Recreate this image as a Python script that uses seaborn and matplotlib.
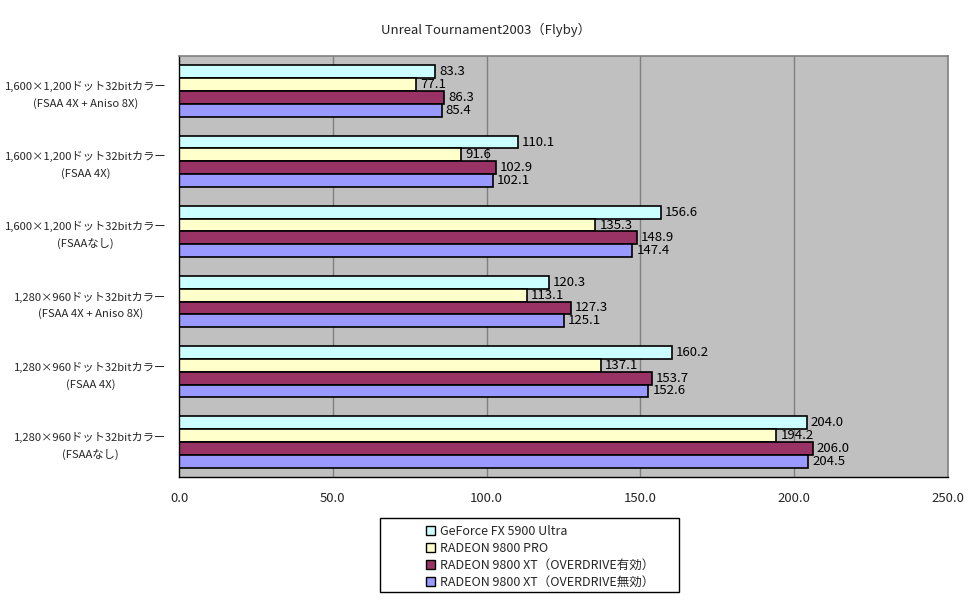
import matplotlib
matplotlib.use("Agg")
import matplotlib.pyplot as plt
import seaborn as sns
import pandas as pd
from matplotlib.patches import Patch, Rectangle

categories = [
    "1,600×1,200ドット32bitカラー\n(FSAA 4X + Aniso 8X)",
    "1,600×1,200ドット32bitカラー\n(FSAA 4X)",
    "1,600×1,200ドット32bitカラー\n(FSAAなし)",
    "1,280×960ドット32bitカラー\n(FSAA 4X + Aniso 8X)",
    "1,280×960ドット32bitカラー\n(FSAA 4X)",
    "1,280×960ドット32bitカラー\n(FSAAなし)",
]
series_names = [
    "GeForce FX 5900 Ultra",
    "RADEON 9800 PRO",
    "RADEON 9800 XT（OVERDRIVE有効）",
    "RADEON 9800 XT（OVERDRIVE無効）",
]
geforce = [83.3, 110.1, 156.6, 120.3, 160.2, 204.0]
radeon_pro = [77.1, 91.6, 135.3, 113.1, 137.1, 194.2]
radeon_xt_on = [86.3, 102.9, 148.9, 127.3, 153.7, 206.0]
radeon_xt_off = [85.4, 102.1, 147.4, 125.1, 152.6, 204.5]
x_ticks = [0, 50, 100, 150, 200, 250]
title = "Unreal Tournament2003（Flyby）"
colors = ["#CCFFFF", "#FFFFCC", "#993366", "#9999FF"]

rows = []
for name, vals in zip(series_names, [geforce, radeon_pro, radeon_xt_on, radeon_xt_off]):
    for c, v in zip(categories, vals):
        rows.append({"cat": c, "series": name, "value": v})
df = pd.DataFrame(rows)

sns.set_style("white")
plt.rcParams["font.family"] = ["Noto Sans CJK JP", "DejaVu Sans"]
plt.rcParams["font.size"] = 9

fig = plt.figure(figsize=(9.72, 6.04), dpi=100)
ax = fig.add_axes([179 / 972, 1 - 477 / 604, (948 - 179) / 972, (477 - 56) / 604])
ax.set_facecolor("#C0C0C0")

sns.barplot(data=df, y="cat", x="value", hue="series", order=categories,
            hue_order=series_names, palette=colors, orient="h", width=0.73,
            edgecolor="black", linewidth=1.2, ax=ax, legend=False, saturation=1)

for cont in ax.containers:
    ax.bar_label(cont, fmt="%.1f", padding=3, fontsize=9.5, color="black")

ax.set_xlim(0, 250)
ax.set_ylim(len(categories) - 0.5, -0.5)
ax.set_xticks(x_ticks)
ax.set_xticklabels([f"{t:.1f}" for t in x_ticks])
ax.set_xlabel("")
ax.set_ylabel("")
ax.set_axisbelow(True)
for t in x_ticks[1:-1]:
    ax.axvline(t, color="#808080", lw=1, zorder=0)

ax.tick_params(axis="x", direction="out", length=3.5, width=1, color="black", pad=7, labelsize=9.5)
ax.tick_params(axis="y", which="major", length=0, pad=9, labelsize=8.1)
ax.set_yticks([i - 0.5 for i in range(len(categories) + 1)], minor=True)
ax.tick_params(axis="y", which="minor", direction="out", length=3, width=1, color="black")
for lbl in ax.get_yticklabels():
    lbl.set_multialignment("center")
    lbl.set_linespacing(1.65)

for side in ["left", "bottom"]:
    ax.spines[side].set_color("black")
    ax.spines[side].set_linewidth(1)
for side in ["top", "right"]:
    ax.spines[side].set_color("#808080")
    ax.spines[side].set_linewidth(1.2)

fig.text(0.5, 1 - 30 / 604, title, ha="center", va="center", fontsize=9.5)

# legend box
fig.patches.append(Rectangle((380 / 972, 1 - 592 / 604), (679 - 380) / 972, (592 - 518) / 604,
                             transform=fig.transFigure, facecolor="white", edgecolor="black",
                             lw=1, zorder=1))
handles = [Patch(facecolor=c, edgecolor="black", lw=1) for c in colors]
leg = fig.legend(handles, series_names, loc="upper left",
                 bbox_to_anchor=(417 / 972, 1 - 516 / 604), frameon=False,
                 handlelength=0.75, handleheight=0.75, handletextpad=0.35,
                 labelspacing=0.32, fontsize=9, borderpad=0.2)
leg.set_zorder(2)

fig.savefig("out.png", dpi=100)
